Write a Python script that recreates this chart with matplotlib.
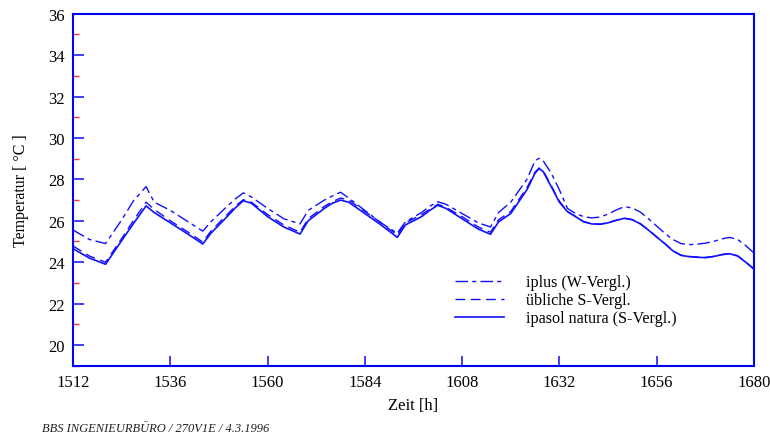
import matplotlib
matplotlib.use("Agg")
import matplotlib.pyplot as plt
from matplotlib.ticker import MultipleLocator

plt.rcParams['font.family'] = ['Liberation Serif', 'DejaVu Serif']

# Stunden und Temperaturen der drei Varianten
hours = [1512, 1516, 1520, 1524, 1527, 1530, 1532, 1536, 1540, 1544,
         1546, 1550, 1552, 1554, 1556, 1560, 1564, 1568, 1570, 1574,
         1576, 1578, 1580, 1584, 1588, 1592, 1594, 1598, 1600, 1602,
         1604, 1608, 1612, 1615, 1617, 1620, 1624, 1626, 1627, 1628,
         1630, 1632, 1634, 1636, 1638, 1640, 1642, 1644, 1646, 1648,
         1650, 1652, 1654, 1656, 1658, 1660, 1662, 1664, 1666, 1668,
         1670, 1672, 1674, 1676, 1678, 1680]

iplus = [25.55, 25.1, 24.9, 26.05, 27.0, 27.65, 26.9, 26.5, 26.0, 25.5,
         25.95, 26.7, 27.05, 27.35, 27.15, 26.6, 26.1, 25.85, 26.5, 27.0,
         27.2, 27.38, 27.1, 26.5, 25.9, 25.4, 25.95, 26.4, 26.7, 26.92,
         26.8, 26.35, 25.9, 25.7, 26.4, 26.9, 28.0, 28.9, 29.02, 28.9,
         28.3, 27.5, 26.6, 26.35, 26.2, 26.14, 26.18, 26.32, 26.52, 26.68,
         26.62, 26.42, 26.1, 25.75, 25.4, 25.1, 24.9, 24.85, 24.87, 24.92,
         25.0, 25.12, 25.2, 25.1, 24.8, 24.45]

ueblich = [24.78, 24.3, 24.0, 25.15, 26.05, 26.9, 26.55, 26.0, 25.5, 24.97,
           25.5, 26.3, 26.7, 27.02, 26.9, 26.3, 25.8, 25.45, 26.1, 26.7,
           26.92, 27.1, 27.0, 26.45, 25.9, 25.3, 25.9, 26.3, 26.55, 26.8,
           26.65, 26.2, 25.7, 25.45, 26.05, 26.45, 27.6, 28.35, 28.55, 28.42,
           27.7, 26.95, 26.45, 26.21, 25.96, 25.86, 25.84, 25.91, 26.03, 26.13,
           26.06, 25.86, 25.56, 25.23, 24.91, 24.56, 24.34, 24.28, 24.25, 24.23,
           24.28, 24.37, 24.42, 24.31, 24.01, 23.68]

ipasol = [24.65, 24.2, 23.9, 25.05, 25.9, 26.72, 26.4, 25.9, 25.4, 24.88,
          25.4, 26.2, 26.62, 26.97, 26.85, 26.2, 25.7, 25.36, 26.0, 26.6,
          26.85, 27.0, 26.9, 26.35, 25.8, 25.2, 25.8, 26.2, 26.5, 26.75,
          26.6, 26.1, 25.6, 25.35, 25.95, 26.35, 27.5, 28.3, 28.52, 28.38,
          27.65, 26.9, 26.44, 26.2, 25.95, 25.85, 25.83, 25.9, 26.02, 26.12,
          26.05, 25.85, 25.55, 25.22, 24.9, 24.55, 24.33, 24.27, 24.24, 24.22,
          24.27, 24.36, 24.41, 24.3, 24.0, 23.67]

blau = '#1010ff'

fig = plt.figure(figsize=(7.7, 4.35), dpi=100)
ax = fig.add_axes([0.095, 0.157, 0.884, 0.809])

ax.plot(hours, iplus, color=blau, lw=1.0, dashes=(9, 3, 3, 3), label='iplus (W-Vergl.)')
ax.plot(hours, ueblich, color=blau, lw=1.0, dashes=(7, 4), label='übliche S-Vergl.')
ax.plot(hours, ipasol, color=blau, lw=1.2, label='ipasol natura (S-Vergl.)')

ax.set_xlim(1512, 1680)
ax.set_ylim(19, 36)
ax.xaxis.set_major_locator(MultipleLocator(24))
ax.yaxis.set_minor_locator(MultipleLocator(2, offset=1))
ax.set_yticks([20, 22, 24, 26, 28, 30, 32, 34, 36])

for s in ax.spines.values():
    s.set_color('#0000ff')
    s.set_linewidth(1.5)

ax.tick_params(axis='both', which='major', direction='in', color='#3030ff',
               width=1.3, labelsize=12, pad=6)
ax.tick_params(axis='y', which='major', length=8)
ax.tick_params(axis='x', which='major', length=7)
ax.tick_params(axis='y', which='minor', direction='in', color='#ff3030',
               length=4, width=1.0)
ax.tick_params(axis='x', which='minor', bottom=False)

ax.set_xlabel('Zeit [h]', fontsize=12, labelpad=5)
ax.set_ylabel('Temperatur [ °C ]', fontsize=11.5, labelpad=14)

ax.legend(loc='lower right', bbox_to_anchor=(0.908, 0.071), frameon=False,
          fontsize=11.6, handlelength=3.0, handletextpad=1.4, labelspacing=0.12)

fig.text(0.055, 0.028, 'BBS INGENIEURBÜRO / 270V1E / 4.3.1996', fontsize=9,
         style='italic', va='top', ha='left', color='#222222')

fig.savefig('out.png', dpi=100)
